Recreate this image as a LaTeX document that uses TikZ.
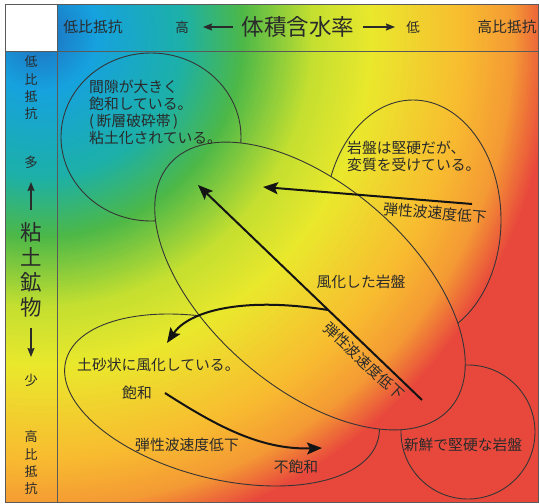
\documentclass[tikz,border=0pt]{standalone}
\usepackage{fontspec}
\setmainfont{Noto Sans CJK JP}
\usetikzlibrary{arrows.meta}
\definecolor{c0}{HTML}{1E6CBE}
\definecolor{c1}{HTML}{16A2DE}
\definecolor{c2}{HTML}{1CB0A8}
\definecolor{c3}{HTML}{4CB848}
\definecolor{c4}{HTML}{C4DF30}
\definecolor{c5}{HTML}{EAE82C}
\definecolor{c6}{HTML}{F8BC30}
\definecolor{c7}{HTML}{F49A34}
\definecolor{c8}{HTML}{E8483C}
\definecolor{txt}{HTML}{2A2A2A}
\definecolor{ln}{HTML}{353535}
\definecolor{fr}{HTML}{5A5A5A}
\newcommand\radseg[4]{%
  \foreach \i in {0,...,24}{%
    \pgfmathsetmacro\rad{#2-\i*(#2-#1)/24}%
    \pgfmathtruncatemacro\pct{100-\i*100/24}%
    \fill[#4!\pct!#3] (G) circle (\rad);
  }}
\begin{document}
\begin{tikzpicture}[x=1pt,y=-1pt,
  outline/.style={draw=ln,line width=0.9pt},
  bigarrow/.style={draw=black!92,line width=2pt,-{Stealth[length=15pt,width=12pt,inset=3pt]}},
  smallarrow/.style={draw=txt,line width=1.2pt,-{Stealth[length=9pt,width=7pt,inset=1pt]}},
  lab/.style={text=txt,inner sep=0pt,font=\fontsize{14.8}{17}\selectfont},
  smalllab/.style={text=txt,inner sep=0pt,font=\fontsize{13.5}{17.3}\selectfont},
  vlab/.style={text=txt,inner sep=0pt,align=center,font=\fontsize{13}{17.3}\selectfont},
  biglab/.style={text=txt,inner sep=0pt,font=\fontsize{22.6}{25}\selectfont},
  bigvlab/.style={text=txt,inner sep=0pt,align=center,font=\fontsize{21.5}{25}\selectfont},
]
\useasboundingbox (0,0) rectangle (539,504);
\coordinate (G) at (40,34);
% background gradient
\begin{scope}
  \clip (5,4) rectangle (538,502);
  \fill[c8] (5,4) rectangle (538,502);
  \radseg{474}{514}{c7}{c8}
  \radseg{424}{474}{c6}{c7}
  \radseg{334}{424}{c5}{c6}
  \radseg{274}{334}{c4}{c5}
  \radseg{204}{274}{c3}{c4}
  \radseg{144}{204}{c2}{c3}
  \radseg{58}{144}{c1}{c2}
  \radseg{0}{58}{c0}{c1}
\end{scope}
\fill[white] (5,4) rectangle (57,51);
\draw[fr,line width=1pt] (5,4) rectangle (538,502);
\draw[fr,line width=1pt] (5,51) -- (538,51);
\draw[fr,line width=1pt] (57,4) -- (57,502);

% ellipses (outlines hidden inside the big ellipse)
\begin{scope}[even odd rule]
  \clip (0,0) rectangle (539,504)
    {[rotate around={-41:(310,286)}] (310,286) ellipse [x radius=186, y radius=101]};
  \draw[outline] (151,137) ellipse [x radius=90, y radius=84];
  \draw[outline] (413,220) ellipse [x radius=88, y radius=120];
  \draw[outline, rotate around={-14:(222,400)}] (222,400) ellipse [x radius=161, y radius=79];
  \draw[outline] (468,432) circle (67);
\end{scope}
\draw[outline, rotate around={-41:(310,286)}] (310,286) ellipse [x radius=186, y radius=101];

% header
\node[lab] (hdrL) at (93,27) {低比抵抗};
\node[smalllab] (hi) at (182,27) {高};
\node[biglab] (vwc) at (298,27) {体積含水率};
\node[smalllab] (lo) at (413,27) {低};
\node[lab] (hdrR) at (507,27) {高比抵抗};
\coordinate (hl1) at (233,27);
\coordinate (hl2) at (203,27);
\coordinate (hr1) at (363,27);
\coordinate (hr2) at (395,27);
\draw[smallarrow] (hl1) -- (hl2);
\draw[smallarrow] (hr1) -- (hr2);

% left strip
\node[vlab] (lsTop) at (31,88) {低\\比\\抵\\抗};
\node[smalllab] (many) at (31,162) {多};
\coordinate (lu1) at (31,210);
\coordinate (lu2) at (31,182);
\draw[smallarrow] (lu1) -- (lu2);
\node[bigvlab] (clay) at (31,270) {粘\\土\\鉱\\物};
\coordinate (ld1) at (31,328);
\coordinate (ld2) at (31,357);
\draw[smallarrow] (ld1) -- (ld2);
\node[smalllab] (few) at (31,380) {少};
\node[vlab] (lsBot) at (31,463) {高\\比\\抵\\抗};

% texts in main area
\node[lab,align=left,anchor=west] (sat) at (89,112.5) {間隙が大きく\\飽和している。\\(\,断層破砕帯\,)\\粘土化されている。};
\node[lab,align=left,anchor=west] (alt) at (347,156) {岩盤は堅硬だが、\\変質を受けている。};
\node[lab,rotate=-5] (vel1) at (435,213) {弾性波速度低下};
\node[lab] (wr) at (361,282) {風化した岩盤};
\node[lab,rotate=-43] (vel2) at (364,361) {弾性波速度低下};
\node[lab,anchor=west] (soil) at (77,365) {土砂状に風化している。};
\node[lab] (sat2) at (137,393) {飽和};
\node[lab] (vel3) at (187,445) {弾性波速度低下};
\node[lab] (unsat) at (296,467) {不飽和};
\node[lab] (fresh) at (463,445) {新鮮で堅硬な岩盤};

% arrows
\coordinate (a1s) at (422,400);
\coordinate (a1e) at (198,185);
\coordinate (a2s) at (472,204);
\coordinate (a2e) at (263,187);
\coordinate (a3s) at (328,310);
\coordinate (a3e) at (167,343);
\coordinate (a4s) at (165,393);
\coordinate (a4e) at (322,448);
\draw[bigarrow] (a1s) -- (a1e);
\draw[bigarrow] (a2s) -- (a2e);
\draw[bigarrow] (a3s) .. controls (240,296) and (188,312) .. (a3e);
\draw[bigarrow] (a4s) .. controls (215,425) and (260,450) .. (a4e);
\end{tikzpicture}
\end{document}
